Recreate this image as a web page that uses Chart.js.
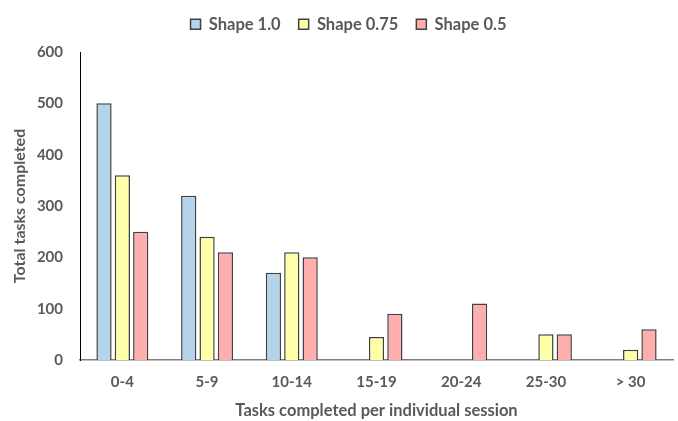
<!DOCTYPE html>
<html>
<head>
<meta charset="utf-8">
<script src="https://cdn.jsdelivr.net/npm/chart.js@4"></script>
<style>
  html, body { margin: 0; padding: 0; background: #fff; }
  #wrap { width: 678px; height: 421px; }
</style>
</head>
<body>
<div id="wrap"><canvas id="tasksChart"></canvas></div>
<script>
// categories and series
const categories = ['0-4', '5-9', '10-14', '15-19', '20-24', '25-30', '> 30'];
const shape10 = [500, 320, 170, 0, 0, 0, 0];
const shape075 = [360, 240, 210, 45, 0, 50, 20];
const shape05 = [250, 210, 200, 90, 110, 50, 60];
const yTicks = [0, 100, 200, 300, 400, 500, 600];

const colorBlue = '#B4D4EC';
const colorYellow = '#FFFFAA';
const colorPink = '#FFAEAE';
const colorBorder = '#404040';
const colorText = '#595959';
const fontFamily = 'Lato, "Open Sans", sans-serif';

function barSet(label, data, color) {
    return {
        label: label,
        data: data,
        backgroundColor: color,
        borderColor: colorBorder,
        borderWidth: 1.5,
        borderSkipped: 'bottom',
        barPercentage: 0.83,
        categoryPercentage: 0.65
    };
}

// fixed legend height so the plot starts lower, and nudge the legend a bit
const legendTweak = {
    id: 'legendTweak',
    beforeInit(chart) {
        const origFit = chart.legend.fit;
        chart.legend.fit = function() {
            origFit.bind(chart.legend)();
            this.height = 52;
        };
    },
    afterLayout(chart) {
        const lg = chart.legend;
        lg.left += 12;
        lg.right += 12;
        lg.top -= 2;
        lg.bottom -= 2;
    }
};

new Chart(document.getElementById('tasksChart').getContext('2d'), {
    type: 'bar',
    data: {
        labels: categories,
        datasets: [
            barSet('Shape 1.0', shape10, colorBlue),
            barSet('Shape 0.75', shape075, colorYellow),
            barSet('Shape 0.5', shape05, colorPink)
        ]
    },
    plugins: [legendTweak],
    options: {
        responsive: true,
        maintainAspectRatio: false,
        animation: false,
        layout: { padding: { left: 0, right: 5, top: 0, bottom: 0 } },
        scales: {
            x: {
                afterFit: function(axis) { axis.height = 61; },
                grid: { display: false, drawTicks: false },
                border: { color: '#7f7f7f', width: 1.5 },
                ticks: {
                    color: colorText,
                    font: { family: fontFamily, size: 15, weight: 'bold' },
                    padding: 13
                },
                title: {
                    display: true,
                    text: 'Tasks completed per individual session',
                    color: colorText,
                    font: { family: fontFamily, size: 16.5, weight: 'bold' },
                    padding: { top: 0, bottom: 0 }
                }
            },
            y: {
                min: 0,
                max: 600,
                afterFit: function(axis) { axis.width = 80; },
                afterBuildTicks: function(axis) {
                    axis.ticks = yTicks.map(v => ({ value: v }));
                },
                grid: { display: false, drawTicks: false },
                border: { color: '#000', width: 1 },
                ticks: {
                    color: colorText,
                    font: { family: fontFamily, size: 15, weight: 'bold' },
                    padding: 17
                },
                title: {
                    display: true,
                    text: 'Total tasks completed',
                    color: colorText,
                    font: { family: fontFamily, size: 16, weight: 'bold' },
                    padding: { top: 10, bottom: 0 }
                }
            }
        },
        plugins: {
            legend: {
                position: 'top',
                labels: {
                    color: colorText,
                    font: { family: fontFamily, size: 16.5, weight: 'bold' },
                    boxWidth: 10,
                    boxHeight: 10,
                    padding: 18
                }
            },
            tooltip: { enabled: false }
        }
    }
});
</script>
</body>
</html>
